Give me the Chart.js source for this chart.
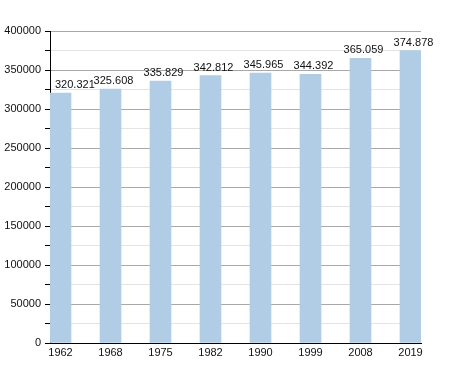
<!DOCTYPE html>
<html>
<head>
<meta charset="utf-8">
<script src="https://cdn.jsdelivr.net/npm/chart.js@4/dist/chart.umd.min.js"></script>
<style>
html,body{margin:0;padding:0;background:#fff;}
canvas{display:block;}
</style>
</head>
<body>
<canvas id="c" width="450" height="373"></canvas>
<script>
const years = ["1962","1968","1975","1982","1990","1999","2008","2019"];
const population = [320321, 325608, 335829, 342812, 345965, 344392, 365059, 374878];
const yTickLabels = ["0","50000","100000","150000","200000","250000","300000","350000","400000"];

function fmt(v){ return String(v).replace(/\B(?=(\d{3})+(?!\d))/g, "."); }

const FONT = "'Liberation Sans', Arial, sans-serif";

const valueLabels = {
  id: 'valueLabels',
  afterDatasetsDraw(chart){
    const ctx = chart.ctx;
    const meta = chart.getDatasetMeta(0);
    const left = chart.chartArea.left;
    ctx.save();
    ctx.font = "11px " + FONT;
    ctx.fillStyle = "#111";
    ctx.textAlign = "left";
    ctx.textBaseline = "alphabetic";
    meta.data.forEach((bar, i) => {
      const txt = fmt(population[i]);
      const w = ctx.measureText(txt).width;
      let x = bar.x + 3 - w / 2;
      if (x < left + 5) x = left + 5;
      ctx.fillText(txt, x, bar.y - 5);
    });
    ctx.restore();
  }
};

new Chart(document.getElementById('c'), {
  type: 'bar',
  data: {
    datasets: [{
      data: population.map((v, i) => ({x: i, y: v})),
      backgroundColor: '#b1cce5',
      borderWidth: 0,
      barThickness: 21
    }]
  },
  options: {
    responsive: false,
    animation: false,
    events: [],
    layout: {padding: {top: 31, right: 29, left: 0, bottom: 0}},
    plugins: {legend: {display: false}, tooltip: {enabled: false}},
    scales: {
      x: {
        type: 'linear',
        offset: false,
        min: -0.21,
        max: 7.21,
        afterBuildTicks: s => { s.ticks = years.map((_, i) => ({value: i})); },
        afterFit: s => { s.height = 30; },
        grid: {display: false, offset: false, drawTicks: false},
        border: {display: true, color: '#000', width: 1},
        ticks: {
          padding: 3,
          maxRotation: 0,
          autoSkip: false,
          color: '#111',
          font: {family: FONT, size: 11},
          callback: v => years[v] ?? ''
        }
      },
      y: {
        min: 0,
        max: 400000,
        afterFit: s => { s.width = 50; },
        afterBuildTicks: s => {
          const t = [];
          for (let v = 0; v <= 400000; v += 25000) t.push({value: v});
          s.ticks = t;
        },
        grid: {
          color: c => (c.tick && c.tick.value % 50000 === 0) ? '#a8a8a8' : '#e4e4e4',
          tickColor: '#000',
          tickLength: 5,
          lineWidth: 1
        },
        border: {display: true, color: '#000', width: 1},
        ticks: {
          padding: 4,
          autoSkip: false,
          color: '#111',
          font: {family: FONT, size: 11},
          callback: v => (v % 50000 === 0) ? yTickLabels[v / 50000] : ''
        }
      }
    }
  },
  plugins: [valueLabels]
});
</script>
</body>
</html>
